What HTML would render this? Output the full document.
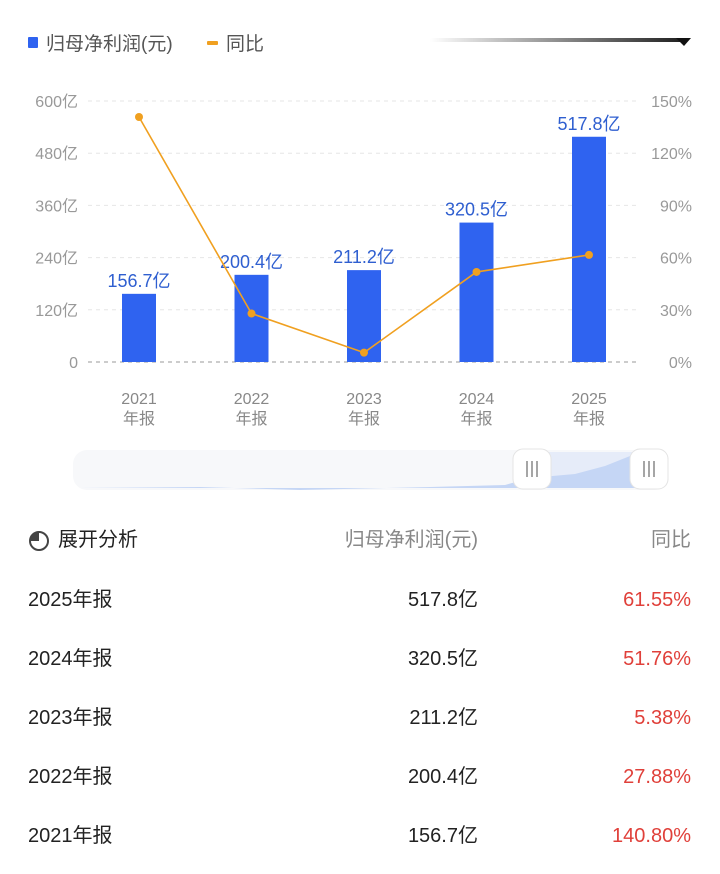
<!DOCTYPE html>
<html><head><meta charset="utf-8"><style>
body{margin:0;width:720px;height:874px;background:#fff;font-family:"Liberation Sans","Noto Sans CJK SC",sans-serif;overflow:hidden;position:relative}
.row{position:absolute;left:0;width:720px;height:30px;font-size:20px;color:#222}
.row span{position:absolute;top:0;line-height:30px}
.c1{left:28px}.c2{right:242px}.c3{right:29px;color:#e0403a}
</style></head><body>
<svg width="720" height="500" style="position:absolute;left:0;top:0" id="svg">
<defs><linearGradient id="fade" x1="0" x2="1"><stop offset="0" stop-color="#fff"/><stop offset="1" stop-color="#222"/></linearGradient></defs>
<rect x="28" y="37" width="10" height="11" rx="1" fill="#2f63f0"/>
<text x="46" y="50" font-size="19" fill="#555">归母净利润(元)</text>
<rect x="207" y="41" width="11" height="4" rx="1" fill="#f0a020"/>
<text x="226" y="50" font-size="19" fill="#555">同比</text>
<rect x="430" y="38" width="250" height="4" fill="url(#fade)"/>
<polygon points="676,38 691,38 684,46" fill="#111"/>
<g id="g"></g>
<rect x="73" y="450" width="595" height="40" rx="14" fill="#f7f8fa"/>
<path d="M530 452 H650 V488 H530Z" fill="#e6ecf9"/>
<path d="M80 488 L200 487 L300 490 L430 487 L505 485 L530 478 L575 474 L605 466 L640 452 L650 452 L650 488 L80 488Z" fill="#c5d6f5"/>
<g><rect x="513" y="449" width="38" height="40" rx="10" fill="#fff" stroke="#e4e4e4"/><path d="M527 461v16M532 461v16M537 461v16" stroke="#888" stroke-width="1.5"/></g>
<g><rect x="630" y="449" width="38" height="40" rx="10" fill="#fff" stroke="#e4e4e4"/><path d="M644 461v16M649 461v16M654 461v16" stroke="#888" stroke-width="1.5"/></g>
</svg>
<svg width="22" height="22" style="position:absolute;left:28px;top:530px"><circle cx="11" cy="11" r="9" fill="none" stroke="#444" stroke-width="2"/><path d="M11 11 V2 A9 9 0 0 0 2 11Z" fill="#444"/></svg>
<div class="row" style="top:525px;color:#888">
<span style="left:58px;color:#222">展开分析</span>
<span class="c2">归母净利润(元)</span>
<span class="c3" style="color:#888">同比</span></div>
<div id="rows"></div>
<script>
const categories=["2021","2022","2023","2024","2025"];
const profit=[156.7,200.4,211.2,320.5,517.8];
const yoy=[140.80,27.88,5.38,51.76,61.55];
const leftTicks=[0,120,240,360,480,600];
const rightTicks=[0,30,60,90,120,150];
const NS="http://www.w3.org/2000/svg",g=document.getElementById('g');
const y0=362,y1=101;
const yL=v=>y0-(v/600)*(y0-y1), yR=v=>y0-(v/150)*(y0-y1), xC=i=>139+i*112.5;
function mk(t,a,txt){const e=document.createElementNS(NS,t);for(const k in a)e.setAttribute(k,a[k]);if(txt!=null)e.textContent=txt;g.appendChild(e);return e;}
leftTicks.forEach((v,i)=>{
 const l=mk('line',{x1:88,x2:640,y1:yL(v),y2:yL(v),stroke:i?'#e6e6e6':'#999','stroke-dasharray':'4 4','stroke-width':1});
 
 
 const t=mk('text',{x:78,y:yL(v)+6,'font-size':16,fill:'#999','text-anchor':'end'},(v?v+'亿':'0'));
 
 
});
rightTicks.forEach(v=>{
 const t=mk('text',{x:692,y:yR(v)+6,'font-size':16,fill:'#999','text-anchor':'end'},v+'%');
 
 
});
categories.forEach((c,i)=>{
 const b=mk('rect',{x:xC(i)-17,y:yL(profit[i]),width:34,height:y0-yL(profit[i]),fill:'#2f63f0'});
 
 
 const lb=mk('text',{x:xC(i),y:yL(profit[i])-7,'font-size':18,fill:'#2f5fd0','text-anchor':'middle'},profit[i].toFixed(1)+'亿');
 
 
 const t1=mk('text',{x:xC(i),y:404,'font-size':16,fill:'#888','text-anchor':'middle'},c);
 
 
 const t2=mk('text',{x:xC(i),y:424,'font-size':16,fill:'#888','text-anchor':'middle'},'年报');
 
 
});
const pl=mk('polyline',{points:yoy.map((v,i)=>xC(i)+','+yR(v)).join(' '),fill:'none',stroke:'#f0a020','stroke-width':1.6});


yoy.forEach((v,i)=>{const p=mk('circle',{cx:xC(i),cy:yR(v),r:4,fill:'#f0a020'});
 
 });
const rows=document.getElementById('rows');
for(let k=categories.length-1,j=0;k>=0;k--,j++){
 const d=document.createElement('div');d.className='row';d.style.top=(585+j*59)+'px';
 
 
 d.innerHTML='<span class="c1">'+categories[k]+'年报</span><span class="c2">'+profit[k].toFixed(1)+'亿</span><span class="c3">'+yoy[k].toFixed(2)+'%</span>';
 rows.appendChild(d);
}
</script>
</body></html>
